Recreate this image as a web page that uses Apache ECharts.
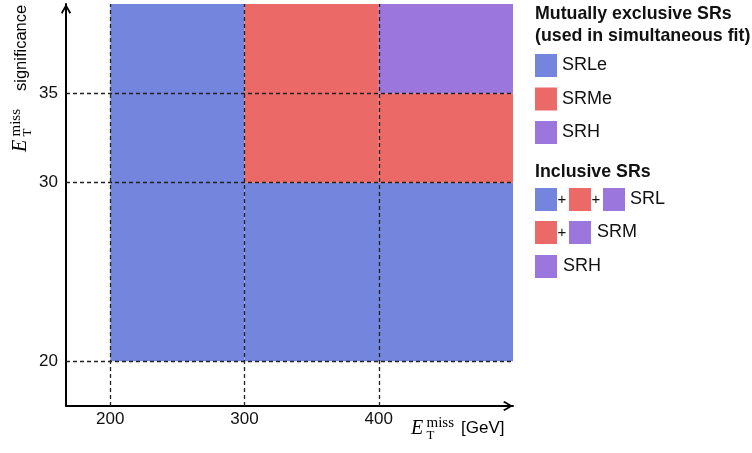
<!DOCTYPE html>
<html>
<head>
<meta charset="utf-8">
<script src="https://cdn.jsdelivr.net/npm/echarts@6/dist/echarts.min.js"></script>
<style>html,body{margin:0;padding:0;background:#fff}#c{width:752px;height:453px}</style>
</head>
<body>
<div id="c"></div>
<script>
// ---- data ----
const xRange = [167, 500];
const yRange = [17.5, 40];
const xTicks = [200, 300, 400];
const yTicks = [20, 30, 35];
// rectangles: [xFrom, xTo, yFrom, yTo]
const srleRects = [[200, 300, 20, 40], [300, 500, 20, 30]];
const srmeRects = [[300, 400, 30, 40], [400, 500, 30, 35]];
const srhRects = [[400, 500, 35, 40]];
const seriesNames = ['SRLe', 'SRMe', 'SRH'];
const colors = ['#7385dd', '#eb6a68', '#9b76dd'];

const FONT = 'Liberation Sans';
const SERIF = 'Liberation Serif';
const arrowPath = 'path://M5,0 L10,8.4 L8.7,9.8 L5,3.3 L1.3,9.8 L0,8.4 Z';

function renderRect(params, api) {
  const p0 = api.coord([api.value(0), api.value(3)]);
  const p1 = api.coord([api.value(1), api.value(2)]);
  return {
    type: 'rect',
    shape: { x: p0[0], y: p0[1], width: p1[0] - p0[0], height: p1[1] - p0[1] },
    style: { fill: api.visual('color') }
  };
}

function rectSeries(name, data, color) {
  return {
    name: name, type: 'custom', renderItem: renderRect, data: data,
    encode: { x: [0, 1], y: [2, 3] }, itemStyle: { color: color }, z: 2, silent: true
  };
}

const gridLines = [];
xTicks.forEach(v => gridLines.push([{ coord: [v, yRange[0]] }, { coord: [v, yRange[1]] }]));
yTicks.forEach(v => gridLines.push([{ coord: [xRange[0], v] }, { coord: [xRange[1], v] }]));

function mathTitle(x, y, rotation, rest) {
  return {
    type: 'group', x: x, y: y, rotation: rotation, silent: true,
    children: [
      { type: 'text', x: 0, y: 0, style: { text: 'E', font: 'italic 20px "' + SERIF + '"', fill: '#000', verticalAlign: 'middle' } },
      { type: 'text', x: 15.5, y: -5, style: { text: 'miss', font: '15px "' + SERIF + '"', fill: '#000', verticalAlign: 'middle' } },
      { type: 'text', x: 15.5, y: 7, style: { text: 'T', font: '13px "' + SERIF + '"', fill: '#000', verticalAlign: 'middle' } },
      { type: 'text', x: rest.dx, y: 0, style: { text: rest.text, font: rest.size + 'px "' + FONT + '"', fill: '#000', verticalAlign: 'middle' } }
    ]
  };
}

function sw(x, y, c) { return { type: 'rect', shape: { x: x, y: y, width: 22, height: 23 }, style: { fill: c } }; }
function txt(x, y, t, f) { return { type: 'text', x: x, y: y, style: { text: t, font: f || ('18px "' + FONT + '"'), fill: '#111', verticalAlign: 'middle' } }; }
const bold = 'bold 17.8px "' + FONT + '"';
const plus = '15px "' + FONT + '"';

const chart = echarts.init(document.getElementById('c'), null, { renderer: 'canvas' });
chart.setOption({
  animation: false,
  backgroundColor: '#fff',
  grid: { left: 66, right: 239, top: 4, bottom: 47, containLabel: false },
  xAxis: {
    type: 'value', min: xRange[0], max: xRange[1],
    axisLine: { show: true, lineStyle: { color: '#000', width: 2 }, symbol: ['none', arrowPath], symbolSize: [10, 11], symbolOffset: [0, -5] },
    axisTick: { show: false }, splitLine: { show: false },
    axisLabel: { customValues: xTicks, color: '#111', fontSize: 17, fontFamily: FONT, margin: 5 }
  },
  yAxis: {
    type: 'value', min: yRange[0], max: yRange[1],
    axisLine: { show: true, lineStyle: { color: '#000', width: 2 }, symbol: ['none', arrowPath], symbolSize: [10, 11], symbolOffset: [0, -5] },
    axisTick: { show: false }, splitLine: { show: false },
    axisLabel: { customValues: yTicks, color: '#111', fontSize: 17, fontFamily: FONT, margin: 8 }
  },
  legend: {
    data: seriesNames, orient: 'vertical', left: 535, top: 54, padding: 0, itemWidth: 22, itemHeight: 23, itemGap: 10.5,
    icon: 'rect', textStyle: { fontSize: 18, fontFamily: FONT, color: '#111' }, selectedMode: false
  },
  series: [
    rectSeries(seriesNames[0], srleRects, colors[0]),
    rectSeries(seriesNames[1], srmeRects, colors[1]),
    rectSeries(seriesNames[2], srhRects, colors[2]),
    {
      type: 'line', data: [], z: 10, silent: true,
      markLine: {
        silent: true, symbol: ['none', 'none'], label: { show: false },
        lineStyle: { color: '#222', width: 1.3, type: [4, 3] },
        emphasis: { disabled: true },
        data: gridLines
      }
    }
  ],
  graphic: [
    mathTitle(411, 428.5, 0, { dx: 50, text: '[GeV]', size: 17 }),
    mathTitle(21, 152, Math.PI / 2, { dx: 61, text: 'significance', size: 16.5 }),
    txt(535, 14, 'Mutually exclusive SRs', bold),
    txt(535, 36.5, '(used in simultaneous fit)', bold),
    txt(535, 172, 'Inclusive SRs', bold),
    sw(535, 188, colors[0]), txt(557.5, 200, '+', plus),
    sw(569, 188, colors[1]), txt(591.5, 200, '+', plus),
    sw(603, 188, colors[2]), txt(630, 199.5, 'SRL'),
    sw(535, 221, colors[1]), txt(557.5, 233, '+', plus),
    sw(569, 221, colors[2]), txt(597, 232.5, 'SRM'),
    sw(535, 255, colors[2]), txt(563, 266.5, 'SRH')
  ]
});
</script>
</body>
</html>
